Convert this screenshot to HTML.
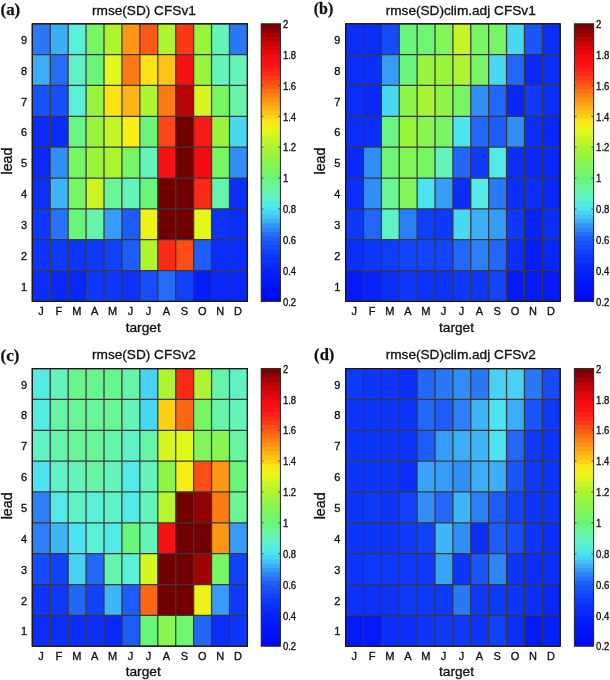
<!DOCTYPE html>
<html><head><meta charset="utf-8"><title>rmse(SD) CFSv1 / CFSv2</title>
<style>
html,body{margin:0;padding:0;background:#fff;}
svg{display:block;}
text{font-family:"Liberation Sans",Arial,Helvetica,sans-serif;fill:#111;stroke:#111;stroke-width:0.33px;}
.tk{font-size:11px;}
.cb{font-size:10.6px;}
.lb{font-size:13.7px;}
.tt{font-size:13.65px;}
.yl{font-size:14.3px;}
.tg{font-family:"Liberation Serif","Times New Roman",serif;font-weight:bold;font-size:16.6px;stroke:#111;stroke-width:0.25px;}
</style></head><body>
<svg width="610" height="680" viewBox="0 0 610 680">
<rect width="610" height="680" fill="#fff"/>
<rect x="32.30" y="23.80" width="18.23" height="31.14" fill="#2a78f6"/>
<rect x="50.22" y="23.80" width="18.23" height="31.14" fill="#3cadf7"/>
<rect x="68.15" y="23.80" width="18.23" height="31.14" fill="#5af0d7"/>
<rect x="86.08" y="23.80" width="18.23" height="31.14" fill="#78f564"/>
<rect x="104.00" y="23.80" width="18.23" height="31.14" fill="#aef530"/>
<rect x="121.92" y="23.80" width="18.23" height="31.14" fill="#fc9614"/>
<rect x="139.85" y="23.80" width="18.23" height="31.14" fill="#fc5a14"/>
<rect x="157.78" y="23.80" width="18.23" height="31.14" fill="#aef530"/>
<rect x="175.70" y="23.80" width="18.23" height="31.14" fill="#fa3a16"/>
<rect x="193.62" y="23.80" width="18.23" height="31.14" fill="#98f53c"/>
<rect x="211.55" y="23.80" width="18.23" height="31.14" fill="#64f4b9"/>
<rect x="229.48" y="23.80" width="18.23" height="31.14" fill="#2a78f6"/>
<rect x="32.30" y="54.64" width="18.23" height="31.14" fill="#3cadf7"/>
<rect x="50.22" y="54.64" width="18.23" height="31.14" fill="#256df7"/>
<rect x="68.15" y="54.64" width="18.23" height="31.14" fill="#60f2c5"/>
<rect x="86.08" y="54.64" width="18.23" height="31.14" fill="#68f57a"/>
<rect x="104.00" y="54.64" width="18.23" height="31.14" fill="#e2f71a"/>
<rect x="121.92" y="54.64" width="18.23" height="31.14" fill="#fc7a12"/>
<rect x="139.85" y="54.64" width="18.23" height="31.14" fill="#fae215"/>
<rect x="157.78" y="54.64" width="18.23" height="31.14" fill="#fcc515"/>
<rect x="175.70" y="54.64" width="18.23" height="31.14" fill="#f61114"/>
<rect x="193.62" y="54.64" width="18.23" height="31.14" fill="#98f53c"/>
<rect x="211.55" y="54.64" width="18.23" height="31.14" fill="#64f4b9"/>
<rect x="229.48" y="54.64" width="18.23" height="31.14" fill="#64f4b9"/>
<rect x="32.30" y="85.49" width="18.23" height="31.14" fill="#1952f9"/>
<rect x="50.22" y="85.49" width="18.23" height="31.14" fill="#174ef9"/>
<rect x="68.15" y="85.49" width="18.23" height="31.14" fill="#5af0d7"/>
<rect x="86.08" y="85.49" width="18.23" height="31.14" fill="#98f53c"/>
<rect x="104.00" y="85.49" width="18.23" height="31.14" fill="#fae215"/>
<rect x="121.92" y="85.49" width="18.23" height="31.14" fill="#fcb416"/>
<rect x="139.85" y="85.49" width="18.23" height="31.14" fill="#aef530"/>
<rect x="157.78" y="85.49" width="18.23" height="31.14" fill="#fc7a12"/>
<rect x="175.70" y="85.49" width="18.23" height="31.14" fill="#b60508"/>
<rect x="193.62" y="85.49" width="18.23" height="31.14" fill="#d6f620"/>
<rect x="211.55" y="85.49" width="18.23" height="31.14" fill="#78f564"/>
<rect x="229.48" y="85.49" width="18.23" height="31.14" fill="#66f4ab"/>
<rect x="32.30" y="116.33" width="18.23" height="31.14" fill="#092bf9"/>
<rect x="50.22" y="116.33" width="18.23" height="31.14" fill="#092bf9"/>
<rect x="68.15" y="116.33" width="18.23" height="31.14" fill="#68f585"/>
<rect x="86.08" y="116.33" width="18.23" height="31.14" fill="#98f53c"/>
<rect x="104.00" y="116.33" width="18.23" height="31.14" fill="#c4f528"/>
<rect x="121.92" y="116.33" width="18.23" height="31.14" fill="#f8ee16"/>
<rect x="139.85" y="116.33" width="18.23" height="31.14" fill="#68f57a"/>
<rect x="157.78" y="116.33" width="18.23" height="31.14" fill="#fb4715"/>
<rect x="175.70" y="116.33" width="18.23" height="31.14" fill="#700002"/>
<rect x="193.62" y="116.33" width="18.23" height="31.14" fill="#f71a15"/>
<rect x="211.55" y="116.33" width="18.23" height="31.14" fill="#98f53c"/>
<rect x="229.48" y="116.33" width="18.23" height="31.14" fill="#49d8f2"/>
<rect x="32.30" y="147.18" width="18.23" height="31.14" fill="#092bf9"/>
<rect x="50.22" y="147.18" width="18.23" height="31.14" fill="#318ef7"/>
<rect x="68.15" y="147.18" width="18.23" height="31.14" fill="#78f564"/>
<rect x="86.08" y="147.18" width="18.23" height="31.14" fill="#98f53c"/>
<rect x="104.00" y="147.18" width="18.23" height="31.14" fill="#aef530"/>
<rect x="121.92" y="147.18" width="18.23" height="31.14" fill="#78f564"/>
<rect x="139.85" y="147.18" width="18.23" height="31.14" fill="#64f4b9"/>
<rect x="157.78" y="147.18" width="18.23" height="31.14" fill="#f61114"/>
<rect x="175.70" y="147.18" width="18.23" height="31.14" fill="#700002"/>
<rect x="193.62" y="147.18" width="18.23" height="31.14" fill="#f20c11"/>
<rect x="211.55" y="147.18" width="18.23" height="31.14" fill="#78f564"/>
<rect x="229.48" y="147.18" width="18.23" height="31.14" fill="#318ef7"/>
<rect x="32.30" y="178.02" width="18.23" height="31.14" fill="#0c31f9"/>
<rect x="50.22" y="178.02" width="18.23" height="31.14" fill="#3eb5f6"/>
<rect x="68.15" y="178.02" width="18.23" height="31.14" fill="#78f564"/>
<rect x="86.08" y="178.02" width="18.23" height="31.14" fill="#caf525"/>
<rect x="104.00" y="178.02" width="18.23" height="31.14" fill="#69f596"/>
<rect x="121.92" y="178.02" width="18.23" height="31.14" fill="#64f4b9"/>
<rect x="139.85" y="178.02" width="18.23" height="31.14" fill="#68f57a"/>
<rect x="157.78" y="178.02" width="18.23" height="31.14" fill="#700002"/>
<rect x="175.70" y="178.02" width="18.23" height="31.14" fill="#700002"/>
<rect x="193.62" y="178.02" width="18.23" height="31.14" fill="#f92a16"/>
<rect x="211.55" y="178.02" width="18.23" height="31.14" fill="#66f4ab"/>
<rect x="229.48" y="178.02" width="18.23" height="31.14" fill="#0b2ff9"/>
<rect x="32.30" y="208.87" width="18.23" height="31.14" fill="#0e38fa"/>
<rect x="50.22" y="208.87" width="18.23" height="31.14" fill="#2772f6"/>
<rect x="68.15" y="208.87" width="18.23" height="31.14" fill="#68f57a"/>
<rect x="86.08" y="208.87" width="18.23" height="31.14" fill="#66f4ab"/>
<rect x="104.00" y="208.87" width="18.23" height="31.14" fill="#369cf7"/>
<rect x="121.92" y="208.87" width="18.23" height="31.14" fill="#1d5cf8"/>
<rect x="139.85" y="208.87" width="18.23" height="31.14" fill="#ebf318"/>
<rect x="157.78" y="208.87" width="18.23" height="31.14" fill="#700002"/>
<rect x="175.70" y="208.87" width="18.23" height="31.14" fill="#700002"/>
<rect x="193.62" y="208.87" width="18.23" height="31.14" fill="#e2f71a"/>
<rect x="211.55" y="208.87" width="18.23" height="31.14" fill="#0d33f9"/>
<rect x="229.48" y="208.87" width="18.23" height="31.14" fill="#0b2ff9"/>
<rect x="32.30" y="239.71" width="18.23" height="31.14" fill="#0d36fa"/>
<rect x="50.22" y="239.71" width="18.23" height="31.14" fill="#0f3afa"/>
<rect x="68.15" y="239.71" width="18.23" height="31.14" fill="#0d36fa"/>
<rect x="86.08" y="239.71" width="18.23" height="31.14" fill="#0f3afa"/>
<rect x="104.00" y="239.71" width="18.23" height="31.14" fill="#1241fa"/>
<rect x="121.92" y="239.71" width="18.23" height="31.14" fill="#1d5cf8"/>
<rect x="139.85" y="239.71" width="18.23" height="31.14" fill="#aef530"/>
<rect x="157.78" y="239.71" width="18.23" height="31.14" fill="#f92a16"/>
<rect x="175.70" y="239.71" width="18.23" height="31.14" fill="#fb4d15"/>
<rect x="193.62" y="239.71" width="18.23" height="31.14" fill="#1d5cf8"/>
<rect x="211.55" y="239.71" width="18.23" height="31.14" fill="#0a2df9"/>
<rect x="229.48" y="239.71" width="18.23" height="31.14" fill="#0a2df9"/>
<rect x="32.30" y="270.56" width="18.23" height="31.14" fill="#0b2ff9"/>
<rect x="50.22" y="270.56" width="18.23" height="31.14" fill="#0928f8"/>
<rect x="68.15" y="270.56" width="18.23" height="31.14" fill="#0928f8"/>
<rect x="86.08" y="270.56" width="18.23" height="31.14" fill="#0e38fa"/>
<rect x="104.00" y="270.56" width="18.23" height="31.14" fill="#0e38fa"/>
<rect x="121.92" y="270.56" width="18.23" height="31.14" fill="#0d33f9"/>
<rect x="139.85" y="270.56" width="18.23" height="31.14" fill="#174ef9"/>
<rect x="157.78" y="270.56" width="18.23" height="31.14" fill="#256df7"/>
<rect x="175.70" y="270.56" width="18.23" height="31.14" fill="#1241fa"/>
<rect x="193.62" y="270.56" width="18.23" height="31.14" fill="#051ef7"/>
<rect x="211.55" y="270.56" width="18.23" height="31.14" fill="#0928f8"/>
<rect x="229.48" y="270.56" width="18.23" height="31.14" fill="#0928f8"/>
<path d="M32.30 23.80V301.40M50.22 23.80V301.40M68.15 23.80V301.40M86.08 23.80V301.40M104.00 23.80V301.40M121.92 23.80V301.40M139.85 23.80V301.40M157.78 23.80V301.40M175.70 23.80V301.40M193.62 23.80V301.40M211.55 23.80V301.40M229.48 23.80V301.40M247.40 23.80V301.40M32.30 23.80H247.40M32.30 54.64H247.40M32.30 85.49H247.40M32.30 116.33H247.40M32.30 147.18H247.40M32.30 178.02H247.40M32.30 208.87H247.40M32.30 239.71H247.40M32.30 270.56H247.40M32.30 301.40H247.40" stroke="#38383c" stroke-width="1.25" fill="none"/>
<rect x="32.30" y="23.80" width="215.10" height="277.60" fill="none" stroke="#161618" stroke-width="1.2"/>
<text class="tk" x="27.10" y="43.82" text-anchor="end">9</text>
<text class="tk" x="27.10" y="74.67" text-anchor="end">8</text>
<text class="tk" x="27.10" y="105.51" text-anchor="end">7</text>
<text class="tk" x="27.10" y="136.36" text-anchor="end">6</text>
<text class="tk" x="27.10" y="167.20" text-anchor="end">5</text>
<text class="tk" x="27.10" y="198.04" text-anchor="end">4</text>
<text class="tk" x="27.10" y="228.89" text-anchor="end">3</text>
<text class="tk" x="27.10" y="259.73" text-anchor="end">2</text>
<text class="tk" x="27.10" y="290.58" text-anchor="end">1</text>
<text class="tk" x="40.91" y="315.20" text-anchor="middle">J</text>
<text class="tk" x="58.84" y="315.20" text-anchor="middle">F</text>
<text class="tk" x="76.76" y="315.20" text-anchor="middle">M</text>
<text class="tk" x="94.69" y="315.20" text-anchor="middle">A</text>
<text class="tk" x="112.61" y="315.20" text-anchor="middle">M</text>
<text class="tk" x="130.54" y="315.20" text-anchor="middle">J</text>
<text class="tk" x="148.46" y="315.20" text-anchor="middle">J</text>
<text class="tk" x="166.39" y="315.20" text-anchor="middle">A</text>
<text class="tk" x="184.31" y="315.20" text-anchor="middle">S</text>
<text class="tk" x="202.24" y="315.20" text-anchor="middle">O</text>
<text class="tk" x="220.16" y="315.20" text-anchor="middle">N</text>
<text class="tk" x="238.09" y="315.20" text-anchor="middle">D</text>
<text class="lb" x="143.20" y="331.60" text-anchor="middle">target</text>
<text class="yl" transform="translate(11.80 161.00) rotate(-90)" text-anchor="middle">lead</text>
<text class="tt" x="143.90" y="14.60" text-anchor="middle">rmse(SD) CFSv1</text>
<text class="tg" transform="translate(0.50 15.10) scale(1.020 1)">(a)</text>
<rect x="261.20" y="23.80" width="19.20" height="5.34" fill="#790103"/>
<rect x="261.20" y="28.14" width="19.20" height="5.34" fill="#8c0204"/>
<rect x="261.20" y="32.48" width="19.20" height="5.34" fill="#a00306"/>
<rect x="261.20" y="36.81" width="19.20" height="5.34" fill="#b50508"/>
<rect x="261.20" y="41.15" width="19.20" height="5.34" fill="#c8060a"/>
<rect x="261.20" y="45.49" width="19.20" height="5.34" fill="#d9070b"/>
<rect x="261.20" y="49.83" width="19.20" height="5.34" fill="#e7080e"/>
<rect x="261.20" y="54.16" width="19.20" height="5.34" fill="#f10b10"/>
<rect x="261.20" y="58.50" width="19.20" height="5.34" fill="#f50f13"/>
<rect x="261.20" y="62.84" width="19.20" height="5.34" fill="#f71615"/>
<rect x="261.20" y="67.17" width="19.20" height="5.34" fill="#f81f16"/>
<rect x="261.20" y="71.51" width="19.20" height="5.34" fill="#f92c16"/>
<rect x="261.20" y="75.85" width="19.20" height="5.34" fill="#fa3b16"/>
<rect x="261.20" y="80.19" width="19.20" height="5.34" fill="#fb4d15"/>
<rect x="261.20" y="84.52" width="19.20" height="5.34" fill="#fc5f14"/>
<rect x="261.20" y="88.86" width="19.20" height="5.34" fill="#fc7113"/>
<rect x="261.20" y="93.20" width="19.20" height="5.34" fill="#fc8213"/>
<rect x="261.20" y="97.54" width="19.20" height="5.34" fill="#fc9214"/>
<rect x="261.20" y="101.87" width="19.20" height="5.34" fill="#fca215"/>
<rect x="261.20" y="106.21" width="19.20" height="5.34" fill="#fcb316"/>
<rect x="261.20" y="110.55" width="19.20" height="5.34" fill="#fcc315"/>
<rect x="261.20" y="114.89" width="19.20" height="5.34" fill="#fcd314"/>
<rect x="261.20" y="119.22" width="19.20" height="5.34" fill="#f9e415"/>
<rect x="261.20" y="123.56" width="19.20" height="5.34" fill="#f3f017"/>
<rect x="261.20" y="127.90" width="19.20" height="5.34" fill="#e7f519"/>
<rect x="261.20" y="132.24" width="19.20" height="5.34" fill="#d8f61f"/>
<rect x="261.20" y="136.57" width="19.20" height="5.34" fill="#c7f527"/>
<rect x="261.20" y="140.91" width="19.20" height="5.34" fill="#baf52c"/>
<rect x="261.20" y="145.25" width="19.20" height="5.34" fill="#adf530"/>
<rect x="261.20" y="149.59" width="19.20" height="5.34" fill="#a1f537"/>
<rect x="261.20" y="153.92" width="19.20" height="5.34" fill="#96f53f"/>
<rect x="261.20" y="158.26" width="19.20" height="5.34" fill="#8cf54a"/>
<rect x="261.20" y="162.60" width="19.20" height="5.34" fill="#83f556"/>
<rect x="261.20" y="166.94" width="19.20" height="5.34" fill="#7af561"/>
<rect x="261.20" y="171.28" width="19.20" height="5.34" fill="#72f56d"/>
<rect x="261.20" y="175.61" width="19.20" height="5.34" fill="#68f579"/>
<rect x="261.20" y="179.95" width="19.20" height="5.34" fill="#69f589"/>
<rect x="261.20" y="184.29" width="19.20" height="5.34" fill="#69f599"/>
<rect x="261.20" y="188.62" width="19.20" height="5.34" fill="#66f4ad"/>
<rect x="261.20" y="192.96" width="19.20" height="5.34" fill="#62f3c0"/>
<rect x="261.20" y="197.30" width="19.20" height="5.34" fill="#5cf1d0"/>
<rect x="261.20" y="201.64" width="19.20" height="5.34" fill="#55ece0"/>
<rect x="261.20" y="205.97" width="19.20" height="5.34" fill="#4de5ee"/>
<rect x="261.20" y="210.31" width="19.20" height="5.34" fill="#48d6f3"/>
<rect x="261.20" y="214.65" width="19.20" height="5.34" fill="#44c5f6"/>
<rect x="261.20" y="218.99" width="19.20" height="5.34" fill="#3cadf7"/>
<rect x="261.20" y="223.32" width="19.20" height="5.34" fill="#3496f7"/>
<rect x="261.20" y="227.66" width="19.20" height="5.34" fill="#2d82f6"/>
<rect x="261.20" y="232.00" width="19.20" height="5.34" fill="#2670f7"/>
<rect x="261.20" y="236.34" width="19.20" height="5.34" fill="#1f60f8"/>
<rect x="261.20" y="240.67" width="19.20" height="5.34" fill="#1a55f8"/>
<rect x="261.20" y="245.01" width="19.20" height="5.34" fill="#164cf9"/>
<rect x="261.20" y="249.35" width="19.20" height="5.34" fill="#1242fa"/>
<rect x="261.20" y="253.69" width="19.20" height="5.34" fill="#0f39fa"/>
<rect x="261.20" y="258.02" width="19.20" height="5.34" fill="#0c33f9"/>
<rect x="261.20" y="262.36" width="19.20" height="5.34" fill="#0a2df9"/>
<rect x="261.20" y="266.70" width="19.20" height="5.34" fill="#0826f8"/>
<rect x="261.20" y="271.04" width="19.20" height="5.34" fill="#0621f8"/>
<rect x="261.20" y="275.37" width="19.20" height="5.34" fill="#051df7"/>
<rect x="261.20" y="279.71" width="19.20" height="5.34" fill="#0418f7"/>
<rect x="261.20" y="284.05" width="19.20" height="5.34" fill="#0314f6"/>
<rect x="261.20" y="288.39" width="19.20" height="5.34" fill="#0210f5"/>
<rect x="261.20" y="292.72" width="19.20" height="5.34" fill="#010df4"/>
<rect x="261.20" y="297.06" width="19.20" height="4.34" fill="#000af3"/>
<rect x="261.20" y="23.80" width="19.20" height="277.60" fill="none" stroke="#222" stroke-width="1"/>
<text class="cb" transform="translate(282.90 28.00) scale(0.9 1)">2</text>
<text class="cb" transform="translate(282.90 58.84) scale(0.9 1)">1.8</text>
<text class="cb" transform="translate(282.90 89.69) scale(0.9 1)">1.6</text>
<text class="cb" transform="translate(282.90 120.53) scale(0.9 1)">1.4</text>
<text class="cb" transform="translate(282.90 151.38) scale(0.9 1)">1.2</text>
<text class="cb" transform="translate(282.90 182.22) scale(0.9 1)">1</text>
<text class="cb" transform="translate(282.90 213.07) scale(0.9 1)">0.8</text>
<text class="cb" transform="translate(282.90 243.91) scale(0.9 1)">0.6</text>
<text class="cb" transform="translate(282.90 274.76) scale(0.9 1)">0.4</text>
<text class="cb" transform="translate(282.90 305.60) scale(0.9 1)">0.2</text>
<path d="M261.20 54.64h2.2M280.40 54.64h-2.2M261.20 85.49h2.2M280.40 85.49h-2.2M261.20 116.33h2.2M280.40 116.33h-2.2M261.20 147.18h2.2M280.40 147.18h-2.2M261.20 178.02h2.2M280.40 178.02h-2.2M261.20 208.87h2.2M280.40 208.87h-2.2M261.20 239.71h2.2M280.40 239.71h-2.2M261.20 270.56h2.2M280.40 270.56h-2.2" stroke="#444" stroke-width="0.9" fill="none"/>
<rect x="345.60" y="23.80" width="18.18" height="31.14" fill="#0b2ff9"/>
<rect x="363.48" y="23.80" width="18.18" height="31.14" fill="#0b2ff9"/>
<rect x="381.37" y="23.80" width="18.18" height="31.14" fill="#164bf9"/>
<rect x="399.25" y="23.80" width="18.18" height="31.14" fill="#68f57a"/>
<rect x="417.13" y="23.80" width="18.18" height="31.14" fill="#6ef571"/>
<rect x="435.02" y="23.80" width="18.18" height="31.14" fill="#82f558"/>
<rect x="452.90" y="23.80" width="18.18" height="31.14" fill="#c4f528"/>
<rect x="470.78" y="23.80" width="18.18" height="31.14" fill="#78f564"/>
<rect x="488.67" y="23.80" width="18.18" height="31.14" fill="#78f564"/>
<rect x="506.55" y="23.80" width="18.18" height="31.14" fill="#49d8f2"/>
<rect x="524.43" y="23.80" width="18.18" height="31.14" fill="#1a55f8"/>
<rect x="542.32" y="23.80" width="18.18" height="31.14" fill="#0b2ff9"/>
<rect x="345.60" y="54.64" width="18.18" height="31.14" fill="#0b2ff9"/>
<rect x="363.48" y="54.64" width="18.18" height="31.14" fill="#0b2ff9"/>
<rect x="381.37" y="54.64" width="18.18" height="31.14" fill="#369cf7"/>
<rect x="399.25" y="54.64" width="18.18" height="31.14" fill="#68f57a"/>
<rect x="417.13" y="54.64" width="18.18" height="31.14" fill="#98f53c"/>
<rect x="435.02" y="54.64" width="18.18" height="31.14" fill="#98f53c"/>
<rect x="452.90" y="54.64" width="18.18" height="31.14" fill="#aef530"/>
<rect x="470.78" y="54.64" width="18.18" height="31.14" fill="#78f564"/>
<rect x="488.67" y="54.64" width="18.18" height="31.14" fill="#49d8f2"/>
<rect x="506.55" y="54.64" width="18.18" height="31.14" fill="#2267f7"/>
<rect x="524.43" y="54.64" width="18.18" height="31.14" fill="#0928f8"/>
<rect x="542.32" y="54.64" width="18.18" height="31.14" fill="#0b2ff9"/>
<rect x="345.60" y="85.49" width="18.18" height="31.14" fill="#0b2ff9"/>
<rect x="363.48" y="85.49" width="18.18" height="31.14" fill="#0928f8"/>
<rect x="381.37" y="85.49" width="18.18" height="31.14" fill="#49d8f2"/>
<rect x="399.25" y="85.49" width="18.18" height="31.14" fill="#8ef548"/>
<rect x="417.13" y="85.49" width="18.18" height="31.14" fill="#a5f535"/>
<rect x="435.02" y="85.49" width="18.18" height="31.14" fill="#8ef548"/>
<rect x="452.90" y="85.49" width="18.18" height="31.14" fill="#78f564"/>
<rect x="470.78" y="85.49" width="18.18" height="31.14" fill="#318ef7"/>
<rect x="488.67" y="85.49" width="18.18" height="31.14" fill="#2267f7"/>
<rect x="506.55" y="85.49" width="18.18" height="31.14" fill="#0928f8"/>
<rect x="524.43" y="85.49" width="18.18" height="31.14" fill="#0f3afa"/>
<rect x="542.32" y="85.49" width="18.18" height="31.14" fill="#0b2ff9"/>
<rect x="345.60" y="116.33" width="18.18" height="31.14" fill="#0b2ff9"/>
<rect x="363.48" y="116.33" width="18.18" height="31.14" fill="#0b2ff9"/>
<rect x="381.37" y="116.33" width="18.18" height="31.14" fill="#68f585"/>
<rect x="399.25" y="116.33" width="18.18" height="31.14" fill="#98f53c"/>
<rect x="417.13" y="116.33" width="18.18" height="31.14" fill="#88f550"/>
<rect x="435.02" y="116.33" width="18.18" height="31.14" fill="#78f564"/>
<rect x="452.90" y="116.33" width="18.18" height="31.14" fill="#4ce4f0"/>
<rect x="470.78" y="116.33" width="18.18" height="31.14" fill="#2267f7"/>
<rect x="488.67" y="116.33" width="18.18" height="31.14" fill="#1d5cf8"/>
<rect x="506.55" y="116.33" width="18.18" height="31.14" fill="#318ef7"/>
<rect x="524.43" y="116.33" width="18.18" height="31.14" fill="#0b2ff9"/>
<rect x="542.32" y="116.33" width="18.18" height="31.14" fill="#0928f8"/>
<rect x="345.60" y="147.18" width="18.18" height="31.14" fill="#0928f8"/>
<rect x="363.48" y="147.18" width="18.18" height="31.14" fill="#318ef7"/>
<rect x="381.37" y="147.18" width="18.18" height="31.14" fill="#6ef571"/>
<rect x="399.25" y="147.18" width="18.18" height="31.14" fill="#82f558"/>
<rect x="417.13" y="147.18" width="18.18" height="31.14" fill="#78f564"/>
<rect x="435.02" y="147.18" width="18.18" height="31.14" fill="#64f4b9"/>
<rect x="452.90" y="147.18" width="18.18" height="31.14" fill="#2267f7"/>
<rect x="470.78" y="147.18" width="18.18" height="31.14" fill="#0f3afa"/>
<rect x="488.67" y="147.18" width="18.18" height="31.14" fill="#52e9e6"/>
<rect x="506.55" y="147.18" width="18.18" height="31.14" fill="#0b2ff9"/>
<rect x="524.43" y="147.18" width="18.18" height="31.14" fill="#0928f8"/>
<rect x="542.32" y="147.18" width="18.18" height="31.14" fill="#0928f8"/>
<rect x="345.60" y="178.02" width="18.18" height="31.14" fill="#0b2ff9"/>
<rect x="363.48" y="178.02" width="18.18" height="31.14" fill="#318ef7"/>
<rect x="381.37" y="178.02" width="18.18" height="31.14" fill="#69f596"/>
<rect x="399.25" y="178.02" width="18.18" height="31.14" fill="#82f558"/>
<rect x="417.13" y="178.02" width="18.18" height="31.14" fill="#4ce4f0"/>
<rect x="435.02" y="178.02" width="18.18" height="31.14" fill="#369cf7"/>
<rect x="452.90" y="178.02" width="18.18" height="31.14" fill="#0b2ff9"/>
<rect x="470.78" y="178.02" width="18.18" height="31.14" fill="#52e9e6"/>
<rect x="488.67" y="178.02" width="18.18" height="31.14" fill="#2a78f6"/>
<rect x="506.55" y="178.02" width="18.18" height="31.14" fill="#0b2ff9"/>
<rect x="524.43" y="178.02" width="18.18" height="31.14" fill="#0b2ff9"/>
<rect x="542.32" y="178.02" width="18.18" height="31.14" fill="#0928f8"/>
<rect x="345.60" y="208.87" width="18.18" height="31.14" fill="#0e38fa"/>
<rect x="363.48" y="208.87" width="18.18" height="31.14" fill="#2267f7"/>
<rect x="381.37" y="208.87" width="18.18" height="31.14" fill="#60f2c5"/>
<rect x="399.25" y="208.87" width="18.18" height="31.14" fill="#2c7ff6"/>
<rect x="417.13" y="208.87" width="18.18" height="31.14" fill="#103dfa"/>
<rect x="435.02" y="208.87" width="18.18" height="31.14" fill="#0e38fa"/>
<rect x="452.90" y="208.87" width="18.18" height="31.14" fill="#49d8f2"/>
<rect x="470.78" y="208.87" width="18.18" height="31.14" fill="#3cadf7"/>
<rect x="488.67" y="208.87" width="18.18" height="31.14" fill="#369cf7"/>
<rect x="506.55" y="208.87" width="18.18" height="31.14" fill="#0e38fa"/>
<rect x="524.43" y="208.87" width="18.18" height="31.14" fill="#0724f8"/>
<rect x="542.32" y="208.87" width="18.18" height="31.14" fill="#0b2ff9"/>
<rect x="345.60" y="239.71" width="18.18" height="31.14" fill="#0b2ff9"/>
<rect x="363.48" y="239.71" width="18.18" height="31.14" fill="#0e38fa"/>
<rect x="381.37" y="239.71" width="18.18" height="31.14" fill="#103dfa"/>
<rect x="399.25" y="239.71" width="18.18" height="31.14" fill="#1344f9"/>
<rect x="417.13" y="239.71" width="18.18" height="31.14" fill="#1344f9"/>
<rect x="435.02" y="239.71" width="18.18" height="31.14" fill="#1344f9"/>
<rect x="452.90" y="239.71" width="18.18" height="31.14" fill="#2267f7"/>
<rect x="470.78" y="239.71" width="18.18" height="31.14" fill="#2c7ff6"/>
<rect x="488.67" y="239.71" width="18.18" height="31.14" fill="#2267f7"/>
<rect x="506.55" y="239.71" width="18.18" height="31.14" fill="#0b2ff9"/>
<rect x="524.43" y="239.71" width="18.18" height="31.14" fill="#051ef7"/>
<rect x="542.32" y="239.71" width="18.18" height="31.14" fill="#0826f8"/>
<rect x="345.60" y="270.56" width="18.18" height="31.14" fill="#051af7"/>
<rect x="363.48" y="270.56" width="18.18" height="31.14" fill="#0724f8"/>
<rect x="381.37" y="270.56" width="18.18" height="31.14" fill="#0b2ff9"/>
<rect x="399.25" y="270.56" width="18.18" height="31.14" fill="#0e38fa"/>
<rect x="417.13" y="270.56" width="18.18" height="31.14" fill="#0d33f9"/>
<rect x="435.02" y="270.56" width="18.18" height="31.14" fill="#0d33f9"/>
<rect x="452.90" y="270.56" width="18.18" height="31.14" fill="#0e38fa"/>
<rect x="470.78" y="270.56" width="18.18" height="31.14" fill="#0e38fa"/>
<rect x="488.67" y="270.56" width="18.18" height="31.14" fill="#1344f9"/>
<rect x="506.55" y="270.56" width="18.18" height="31.14" fill="#051af7"/>
<rect x="524.43" y="270.56" width="18.18" height="31.14" fill="#051af7"/>
<rect x="542.32" y="270.56" width="18.18" height="31.14" fill="#051af7"/>
<path d="M345.60 23.80V301.40M363.48 23.80V301.40M381.37 23.80V301.40M399.25 23.80V301.40M417.13 23.80V301.40M435.02 23.80V301.40M452.90 23.80V301.40M470.78 23.80V301.40M488.67 23.80V301.40M506.55 23.80V301.40M524.43 23.80V301.40M542.32 23.80V301.40M560.20 23.80V301.40M345.60 23.80H560.20M345.60 54.64H560.20M345.60 85.49H560.20M345.60 116.33H560.20M345.60 147.18H560.20M345.60 178.02H560.20M345.60 208.87H560.20M345.60 239.71H560.20M345.60 270.56H560.20M345.60 301.40H560.20" stroke="#38383c" stroke-width="1.25" fill="none"/>
<rect x="345.60" y="23.80" width="214.60" height="277.60" fill="none" stroke="#161618" stroke-width="1.2"/>
<text class="tk" x="340.40" y="43.82" text-anchor="end">9</text>
<text class="tk" x="340.40" y="74.67" text-anchor="end">8</text>
<text class="tk" x="340.40" y="105.51" text-anchor="end">7</text>
<text class="tk" x="340.40" y="136.36" text-anchor="end">6</text>
<text class="tk" x="340.40" y="167.20" text-anchor="end">5</text>
<text class="tk" x="340.40" y="198.04" text-anchor="end">4</text>
<text class="tk" x="340.40" y="228.89" text-anchor="end">3</text>
<text class="tk" x="340.40" y="259.73" text-anchor="end">2</text>
<text class="tk" x="340.40" y="290.58" text-anchor="end">1</text>
<text class="tk" x="354.19" y="315.20" text-anchor="middle">J</text>
<text class="tk" x="372.07" y="315.20" text-anchor="middle">F</text>
<text class="tk" x="389.96" y="315.20" text-anchor="middle">M</text>
<text class="tk" x="407.84" y="315.20" text-anchor="middle">A</text>
<text class="tk" x="425.73" y="315.20" text-anchor="middle">M</text>
<text class="tk" x="443.61" y="315.20" text-anchor="middle">J</text>
<text class="tk" x="461.49" y="315.20" text-anchor="middle">J</text>
<text class="tk" x="479.38" y="315.20" text-anchor="middle">A</text>
<text class="tk" x="497.26" y="315.20" text-anchor="middle">S</text>
<text class="tk" x="515.14" y="315.20" text-anchor="middle">O</text>
<text class="tk" x="533.02" y="315.20" text-anchor="middle">N</text>
<text class="tk" x="550.91" y="315.20" text-anchor="middle">D</text>
<text class="lb" x="456.50" y="331.60" text-anchor="middle">target</text>
<text class="yl" transform="translate(325.10 161.00) rotate(-90)" text-anchor="middle">lead</text>
<text class="tt" x="460.70" y="14.60" text-anchor="middle">rmse(SD)clim.adj CFSv1</text>
<text class="tg" transform="translate(313.80 14.20) scale(0.960 1)">(b)</text>
<rect x="574.40" y="23.80" width="19.20" height="5.34" fill="#790103"/>
<rect x="574.40" y="28.14" width="19.20" height="5.34" fill="#8c0204"/>
<rect x="574.40" y="32.48" width="19.20" height="5.34" fill="#a00306"/>
<rect x="574.40" y="36.81" width="19.20" height="5.34" fill="#b50508"/>
<rect x="574.40" y="41.15" width="19.20" height="5.34" fill="#c8060a"/>
<rect x="574.40" y="45.49" width="19.20" height="5.34" fill="#d9070b"/>
<rect x="574.40" y="49.83" width="19.20" height="5.34" fill="#e7080e"/>
<rect x="574.40" y="54.16" width="19.20" height="5.34" fill="#f10b10"/>
<rect x="574.40" y="58.50" width="19.20" height="5.34" fill="#f50f13"/>
<rect x="574.40" y="62.84" width="19.20" height="5.34" fill="#f71615"/>
<rect x="574.40" y="67.17" width="19.20" height="5.34" fill="#f81f16"/>
<rect x="574.40" y="71.51" width="19.20" height="5.34" fill="#f92c16"/>
<rect x="574.40" y="75.85" width="19.20" height="5.34" fill="#fa3b16"/>
<rect x="574.40" y="80.19" width="19.20" height="5.34" fill="#fb4d15"/>
<rect x="574.40" y="84.52" width="19.20" height="5.34" fill="#fc5f14"/>
<rect x="574.40" y="88.86" width="19.20" height="5.34" fill="#fc7113"/>
<rect x="574.40" y="93.20" width="19.20" height="5.34" fill="#fc8213"/>
<rect x="574.40" y="97.54" width="19.20" height="5.34" fill="#fc9214"/>
<rect x="574.40" y="101.87" width="19.20" height="5.34" fill="#fca215"/>
<rect x="574.40" y="106.21" width="19.20" height="5.34" fill="#fcb316"/>
<rect x="574.40" y="110.55" width="19.20" height="5.34" fill="#fcc315"/>
<rect x="574.40" y="114.89" width="19.20" height="5.34" fill="#fcd314"/>
<rect x="574.40" y="119.22" width="19.20" height="5.34" fill="#f9e415"/>
<rect x="574.40" y="123.56" width="19.20" height="5.34" fill="#f3f017"/>
<rect x="574.40" y="127.90" width="19.20" height="5.34" fill="#e7f519"/>
<rect x="574.40" y="132.24" width="19.20" height="5.34" fill="#d8f61f"/>
<rect x="574.40" y="136.57" width="19.20" height="5.34" fill="#c7f527"/>
<rect x="574.40" y="140.91" width="19.20" height="5.34" fill="#baf52c"/>
<rect x="574.40" y="145.25" width="19.20" height="5.34" fill="#adf530"/>
<rect x="574.40" y="149.59" width="19.20" height="5.34" fill="#a1f537"/>
<rect x="574.40" y="153.92" width="19.20" height="5.34" fill="#96f53f"/>
<rect x="574.40" y="158.26" width="19.20" height="5.34" fill="#8cf54a"/>
<rect x="574.40" y="162.60" width="19.20" height="5.34" fill="#83f556"/>
<rect x="574.40" y="166.94" width="19.20" height="5.34" fill="#7af561"/>
<rect x="574.40" y="171.28" width="19.20" height="5.34" fill="#72f56d"/>
<rect x="574.40" y="175.61" width="19.20" height="5.34" fill="#68f579"/>
<rect x="574.40" y="179.95" width="19.20" height="5.34" fill="#69f589"/>
<rect x="574.40" y="184.29" width="19.20" height="5.34" fill="#69f599"/>
<rect x="574.40" y="188.62" width="19.20" height="5.34" fill="#66f4ad"/>
<rect x="574.40" y="192.96" width="19.20" height="5.34" fill="#62f3c0"/>
<rect x="574.40" y="197.30" width="19.20" height="5.34" fill="#5cf1d0"/>
<rect x="574.40" y="201.64" width="19.20" height="5.34" fill="#55ece0"/>
<rect x="574.40" y="205.97" width="19.20" height="5.34" fill="#4de5ee"/>
<rect x="574.40" y="210.31" width="19.20" height="5.34" fill="#48d6f3"/>
<rect x="574.40" y="214.65" width="19.20" height="5.34" fill="#44c5f6"/>
<rect x="574.40" y="218.99" width="19.20" height="5.34" fill="#3cadf7"/>
<rect x="574.40" y="223.32" width="19.20" height="5.34" fill="#3496f7"/>
<rect x="574.40" y="227.66" width="19.20" height="5.34" fill="#2d82f6"/>
<rect x="574.40" y="232.00" width="19.20" height="5.34" fill="#2670f7"/>
<rect x="574.40" y="236.34" width="19.20" height="5.34" fill="#1f60f8"/>
<rect x="574.40" y="240.67" width="19.20" height="5.34" fill="#1a55f8"/>
<rect x="574.40" y="245.01" width="19.20" height="5.34" fill="#164cf9"/>
<rect x="574.40" y="249.35" width="19.20" height="5.34" fill="#1242fa"/>
<rect x="574.40" y="253.69" width="19.20" height="5.34" fill="#0f39fa"/>
<rect x="574.40" y="258.02" width="19.20" height="5.34" fill="#0c33f9"/>
<rect x="574.40" y="262.36" width="19.20" height="5.34" fill="#0a2df9"/>
<rect x="574.40" y="266.70" width="19.20" height="5.34" fill="#0826f8"/>
<rect x="574.40" y="271.04" width="19.20" height="5.34" fill="#0621f8"/>
<rect x="574.40" y="275.37" width="19.20" height="5.34" fill="#051df7"/>
<rect x="574.40" y="279.71" width="19.20" height="5.34" fill="#0418f7"/>
<rect x="574.40" y="284.05" width="19.20" height="5.34" fill="#0314f6"/>
<rect x="574.40" y="288.39" width="19.20" height="5.34" fill="#0210f5"/>
<rect x="574.40" y="292.72" width="19.20" height="5.34" fill="#010df4"/>
<rect x="574.40" y="297.06" width="19.20" height="4.34" fill="#000af3"/>
<rect x="574.40" y="23.80" width="19.20" height="277.60" fill="none" stroke="#222" stroke-width="1"/>
<text class="cb" transform="translate(596.10 28.00) scale(0.9 1)">2</text>
<text class="cb" transform="translate(596.10 58.84) scale(0.9 1)">1.8</text>
<text class="cb" transform="translate(596.10 89.69) scale(0.9 1)">1.6</text>
<text class="cb" transform="translate(596.10 120.53) scale(0.9 1)">1.4</text>
<text class="cb" transform="translate(596.10 151.38) scale(0.9 1)">1.2</text>
<text class="cb" transform="translate(596.10 182.22) scale(0.9 1)">1</text>
<text class="cb" transform="translate(596.10 213.07) scale(0.9 1)">0.8</text>
<text class="cb" transform="translate(596.10 243.91) scale(0.9 1)">0.6</text>
<text class="cb" transform="translate(596.10 274.76) scale(0.9 1)">0.4</text>
<text class="cb" transform="translate(596.10 305.60) scale(0.9 1)">0.2</text>
<path d="M574.40 54.64h2.2M593.60 54.64h-2.2M574.40 85.49h2.2M593.60 85.49h-2.2M574.40 116.33h2.2M593.60 116.33h-2.2M574.40 147.18h2.2M593.60 147.18h-2.2M574.40 178.02h2.2M593.60 178.02h-2.2M574.40 208.87h2.2M593.60 208.87h-2.2M574.40 239.71h2.2M593.60 239.71h-2.2M574.40 270.56h2.2M593.60 270.56h-2.2" stroke="#444" stroke-width="0.9" fill="none"/>
<rect x="32.30" y="368.60" width="18.23" height="31.14" fill="#54ebe1"/>
<rect x="50.22" y="368.60" width="18.23" height="31.14" fill="#64f4b9"/>
<rect x="68.15" y="368.60" width="18.23" height="31.14" fill="#69f58b"/>
<rect x="86.08" y="368.60" width="18.23" height="31.14" fill="#69f58b"/>
<rect x="104.00" y="368.60" width="18.23" height="31.14" fill="#69f58b"/>
<rect x="121.92" y="368.60" width="18.23" height="31.14" fill="#66f4ab"/>
<rect x="139.85" y="368.60" width="18.23" height="31.14" fill="#47d2f4"/>
<rect x="157.78" y="368.60" width="18.23" height="31.14" fill="#aef530"/>
<rect x="175.70" y="368.60" width="18.23" height="31.14" fill="#f92a16"/>
<rect x="193.62" y="368.60" width="18.23" height="31.14" fill="#aef530"/>
<rect x="211.55" y="368.60" width="18.23" height="31.14" fill="#66f4ab"/>
<rect x="229.48" y="368.60" width="18.23" height="31.14" fill="#60f2c5"/>
<rect x="32.30" y="399.44" width="18.23" height="31.14" fill="#54ebe1"/>
<rect x="50.22" y="399.44" width="18.23" height="31.14" fill="#67f5a4"/>
<rect x="68.15" y="399.44" width="18.23" height="31.14" fill="#69f596"/>
<rect x="86.08" y="399.44" width="18.23" height="31.14" fill="#69f596"/>
<rect x="104.00" y="399.44" width="18.23" height="31.14" fill="#69f596"/>
<rect x="121.92" y="399.44" width="18.23" height="31.14" fill="#64f4b9"/>
<rect x="139.85" y="399.44" width="18.23" height="31.14" fill="#49d8f2"/>
<rect x="157.78" y="399.44" width="18.23" height="31.14" fill="#fcd014"/>
<rect x="175.70" y="399.44" width="18.23" height="31.14" fill="#fc6713"/>
<rect x="193.62" y="399.44" width="18.23" height="31.14" fill="#78f564"/>
<rect x="211.55" y="399.44" width="18.23" height="31.14" fill="#66f4ab"/>
<rect x="229.48" y="399.44" width="18.23" height="31.14" fill="#64f4b9"/>
<rect x="32.30" y="430.29" width="18.23" height="31.14" fill="#60f2c5"/>
<rect x="50.22" y="430.29" width="18.23" height="31.14" fill="#66f4ab"/>
<rect x="68.15" y="430.29" width="18.23" height="31.14" fill="#69f596"/>
<rect x="86.08" y="430.29" width="18.23" height="31.14" fill="#69f596"/>
<rect x="104.00" y="430.29" width="18.23" height="31.14" fill="#66f4ab"/>
<rect x="121.92" y="430.29" width="18.23" height="31.14" fill="#60f2c5"/>
<rect x="139.85" y="430.29" width="18.23" height="31.14" fill="#66f4ab"/>
<rect x="157.78" y="430.29" width="18.23" height="31.14" fill="#d6f620"/>
<rect x="175.70" y="430.29" width="18.23" height="31.14" fill="#e2f71a"/>
<rect x="193.62" y="430.29" width="18.23" height="31.14" fill="#82f558"/>
<rect x="211.55" y="430.29" width="18.23" height="31.14" fill="#88f550"/>
<rect x="229.48" y="430.29" width="18.23" height="31.14" fill="#67f5a4"/>
<rect x="32.30" y="461.13" width="18.23" height="31.14" fill="#4ce4f0"/>
<rect x="50.22" y="461.13" width="18.23" height="31.14" fill="#60f2c5"/>
<rect x="68.15" y="461.13" width="18.23" height="31.14" fill="#64f4b9"/>
<rect x="86.08" y="461.13" width="18.23" height="31.14" fill="#67f5a4"/>
<rect x="104.00" y="461.13" width="18.23" height="31.14" fill="#64f4b9"/>
<rect x="121.92" y="461.13" width="18.23" height="31.14" fill="#52e9e6"/>
<rect x="139.85" y="461.13" width="18.23" height="31.14" fill="#64f4b9"/>
<rect x="157.78" y="461.13" width="18.23" height="31.14" fill="#8ef548"/>
<rect x="175.70" y="461.13" width="18.23" height="31.14" fill="#f8ee16"/>
<rect x="193.62" y="461.13" width="18.23" height="31.14" fill="#fb4d15"/>
<rect x="211.55" y="461.13" width="18.23" height="31.14" fill="#fc9614"/>
<rect x="229.48" y="461.13" width="18.23" height="31.14" fill="#68f57a"/>
<rect x="32.30" y="491.98" width="18.23" height="31.14" fill="#2c7ff6"/>
<rect x="50.22" y="491.98" width="18.23" height="31.14" fill="#52e9e6"/>
<rect x="68.15" y="491.98" width="18.23" height="31.14" fill="#60f2c5"/>
<rect x="86.08" y="491.98" width="18.23" height="31.14" fill="#5af0d7"/>
<rect x="104.00" y="491.98" width="18.23" height="31.14" fill="#60f2c5"/>
<rect x="121.92" y="491.98" width="18.23" height="31.14" fill="#52e9e6"/>
<rect x="139.85" y="491.98" width="18.23" height="31.14" fill="#64f4b9"/>
<rect x="157.78" y="491.98" width="18.23" height="31.14" fill="#b7f52d"/>
<rect x="175.70" y="491.98" width="18.23" height="31.14" fill="#700002"/>
<rect x="193.62" y="491.98" width="18.23" height="31.14" fill="#910204"/>
<rect x="211.55" y="491.98" width="18.23" height="31.14" fill="#fc7a12"/>
<rect x="229.48" y="491.98" width="18.23" height="31.14" fill="#69f596"/>
<rect x="32.30" y="522.82" width="18.23" height="31.14" fill="#2c7ff6"/>
<rect x="50.22" y="522.82" width="18.23" height="31.14" fill="#3eb5f6"/>
<rect x="68.15" y="522.82" width="18.23" height="31.14" fill="#4ce4f0"/>
<rect x="86.08" y="522.82" width="18.23" height="31.14" fill="#5af0d7"/>
<rect x="104.00" y="522.82" width="18.23" height="31.14" fill="#52e9e6"/>
<rect x="121.92" y="522.82" width="18.23" height="31.14" fill="#68f57a"/>
<rect x="139.85" y="522.82" width="18.23" height="31.14" fill="#64f4b9"/>
<rect x="157.78" y="522.82" width="18.23" height="31.14" fill="#f61114"/>
<rect x="175.70" y="522.82" width="18.23" height="31.14" fill="#700002"/>
<rect x="193.62" y="522.82" width="18.23" height="31.14" fill="#700002"/>
<rect x="211.55" y="522.82" width="18.23" height="31.14" fill="#fc9614"/>
<rect x="229.48" y="522.82" width="18.23" height="31.14" fill="#369cf7"/>
<rect x="32.30" y="553.67" width="18.23" height="31.14" fill="#164bf9"/>
<rect x="50.22" y="553.67" width="18.23" height="31.14" fill="#1241fa"/>
<rect x="68.15" y="553.67" width="18.23" height="31.14" fill="#47d2f4"/>
<rect x="86.08" y="553.67" width="18.23" height="31.14" fill="#2267f7"/>
<rect x="104.00" y="553.67" width="18.23" height="31.14" fill="#66f4ab"/>
<rect x="121.92" y="553.67" width="18.23" height="31.14" fill="#5af0d7"/>
<rect x="139.85" y="553.67" width="18.23" height="31.14" fill="#d6f620"/>
<rect x="157.78" y="553.67" width="18.23" height="31.14" fill="#700002"/>
<rect x="175.70" y="553.67" width="18.23" height="31.14" fill="#700002"/>
<rect x="193.62" y="553.67" width="18.23" height="31.14" fill="#a00306"/>
<rect x="211.55" y="553.67" width="18.23" height="31.14" fill="#78f564"/>
<rect x="229.48" y="553.67" width="18.23" height="31.14" fill="#1241fa"/>
<rect x="32.30" y="584.51" width="18.23" height="31.14" fill="#0d36fa"/>
<rect x="50.22" y="584.51" width="18.23" height="31.14" fill="#0f3afa"/>
<rect x="68.15" y="584.51" width="18.23" height="31.14" fill="#2267f7"/>
<rect x="86.08" y="584.51" width="18.23" height="31.14" fill="#1241fa"/>
<rect x="104.00" y="584.51" width="18.23" height="31.14" fill="#3eb5f6"/>
<rect x="121.92" y="584.51" width="18.23" height="31.14" fill="#1d5cf8"/>
<rect x="139.85" y="584.51" width="18.23" height="31.14" fill="#fc6713"/>
<rect x="157.78" y="584.51" width="18.23" height="31.14" fill="#700002"/>
<rect x="175.70" y="584.51" width="18.23" height="31.14" fill="#700002"/>
<rect x="193.62" y="584.51" width="18.23" height="31.14" fill="#eff218"/>
<rect x="211.55" y="584.51" width="18.23" height="31.14" fill="#369cf7"/>
<rect x="229.48" y="584.51" width="18.23" height="31.14" fill="#0f3afa"/>
<rect x="32.30" y="615.36" width="18.23" height="31.14" fill="#0b2ff9"/>
<rect x="50.22" y="615.36" width="18.23" height="31.14" fill="#0b2ff9"/>
<rect x="68.15" y="615.36" width="18.23" height="31.14" fill="#0b2ff9"/>
<rect x="86.08" y="615.36" width="18.23" height="31.14" fill="#0b2ff9"/>
<rect x="104.00" y="615.36" width="18.23" height="31.14" fill="#0928f8"/>
<rect x="121.92" y="615.36" width="18.23" height="31.14" fill="#1d5cf8"/>
<rect x="139.85" y="615.36" width="18.23" height="31.14" fill="#68f57a"/>
<rect x="157.78" y="615.36" width="18.23" height="31.14" fill="#88f550"/>
<rect x="175.70" y="615.36" width="18.23" height="31.14" fill="#6ef571"/>
<rect x="193.62" y="615.36" width="18.23" height="31.14" fill="#2267f7"/>
<rect x="211.55" y="615.36" width="18.23" height="31.14" fill="#0b2ff9"/>
<rect x="229.48" y="615.36" width="18.23" height="31.14" fill="#0d36fa"/>
<path d="M32.30 368.60V646.20M50.22 368.60V646.20M68.15 368.60V646.20M86.08 368.60V646.20M104.00 368.60V646.20M121.92 368.60V646.20M139.85 368.60V646.20M157.78 368.60V646.20M175.70 368.60V646.20M193.62 368.60V646.20M211.55 368.60V646.20M229.48 368.60V646.20M247.40 368.60V646.20M32.30 368.60H247.40M32.30 399.44H247.40M32.30 430.29H247.40M32.30 461.13H247.40M32.30 491.98H247.40M32.30 522.82H247.40M32.30 553.67H247.40M32.30 584.51H247.40M32.30 615.36H247.40M32.30 646.20H247.40" stroke="#38383c" stroke-width="1.25" fill="none"/>
<rect x="32.30" y="368.60" width="215.10" height="277.60" fill="none" stroke="#161618" stroke-width="1.2"/>
<text class="tk" x="27.10" y="388.62" text-anchor="end">9</text>
<text class="tk" x="27.10" y="419.47" text-anchor="end">8</text>
<text class="tk" x="27.10" y="450.31" text-anchor="end">7</text>
<text class="tk" x="27.10" y="481.16" text-anchor="end">6</text>
<text class="tk" x="27.10" y="512.00" text-anchor="end">5</text>
<text class="tk" x="27.10" y="542.84" text-anchor="end">4</text>
<text class="tk" x="27.10" y="573.69" text-anchor="end">3</text>
<text class="tk" x="27.10" y="604.53" text-anchor="end">2</text>
<text class="tk" x="27.10" y="635.38" text-anchor="end">1</text>
<text class="tk" x="40.91" y="660.00" text-anchor="middle">J</text>
<text class="tk" x="58.84" y="660.00" text-anchor="middle">F</text>
<text class="tk" x="76.76" y="660.00" text-anchor="middle">M</text>
<text class="tk" x="94.69" y="660.00" text-anchor="middle">A</text>
<text class="tk" x="112.61" y="660.00" text-anchor="middle">M</text>
<text class="tk" x="130.54" y="660.00" text-anchor="middle">J</text>
<text class="tk" x="148.46" y="660.00" text-anchor="middle">J</text>
<text class="tk" x="166.39" y="660.00" text-anchor="middle">A</text>
<text class="tk" x="184.31" y="660.00" text-anchor="middle">S</text>
<text class="tk" x="202.24" y="660.00" text-anchor="middle">O</text>
<text class="tk" x="220.16" y="660.00" text-anchor="middle">N</text>
<text class="tk" x="238.09" y="660.00" text-anchor="middle">D</text>
<text class="lb" x="143.20" y="676.40" text-anchor="middle">target</text>
<text class="yl" transform="translate(11.80 505.80) rotate(-90)" text-anchor="middle">lead</text>
<text class="tt" x="143.90" y="359.40" text-anchor="middle">rmse(SD) CFSv2</text>
<text class="tg" transform="translate(0.50 360.60) scale(1.020 1)">(c)</text>
<rect x="261.20" y="368.60" width="19.20" height="5.34" fill="#790103"/>
<rect x="261.20" y="372.94" width="19.20" height="5.34" fill="#8c0204"/>
<rect x="261.20" y="377.28" width="19.20" height="5.34" fill="#a00306"/>
<rect x="261.20" y="381.61" width="19.20" height="5.34" fill="#b50508"/>
<rect x="261.20" y="385.95" width="19.20" height="5.34" fill="#c8060a"/>
<rect x="261.20" y="390.29" width="19.20" height="5.34" fill="#d9070b"/>
<rect x="261.20" y="394.62" width="19.20" height="5.34" fill="#e7080e"/>
<rect x="261.20" y="398.96" width="19.20" height="5.34" fill="#f10b10"/>
<rect x="261.20" y="403.30" width="19.20" height="5.34" fill="#f50f13"/>
<rect x="261.20" y="407.64" width="19.20" height="5.34" fill="#f71615"/>
<rect x="261.20" y="411.98" width="19.20" height="5.34" fill="#f81f16"/>
<rect x="261.20" y="416.31" width="19.20" height="5.34" fill="#f92c16"/>
<rect x="261.20" y="420.65" width="19.20" height="5.34" fill="#fa3b16"/>
<rect x="261.20" y="424.99" width="19.20" height="5.34" fill="#fb4d15"/>
<rect x="261.20" y="429.33" width="19.20" height="5.34" fill="#fc5f14"/>
<rect x="261.20" y="433.66" width="19.20" height="5.34" fill="#fc7113"/>
<rect x="261.20" y="438.00" width="19.20" height="5.34" fill="#fc8213"/>
<rect x="261.20" y="442.34" width="19.20" height="5.34" fill="#fc9214"/>
<rect x="261.20" y="446.68" width="19.20" height="5.34" fill="#fca215"/>
<rect x="261.20" y="451.01" width="19.20" height="5.34" fill="#fcb316"/>
<rect x="261.20" y="455.35" width="19.20" height="5.34" fill="#fcc315"/>
<rect x="261.20" y="459.69" width="19.20" height="5.34" fill="#fcd314"/>
<rect x="261.20" y="464.03" width="19.20" height="5.34" fill="#f9e415"/>
<rect x="261.20" y="468.36" width="19.20" height="5.34" fill="#f3f017"/>
<rect x="261.20" y="472.70" width="19.20" height="5.34" fill="#e7f519"/>
<rect x="261.20" y="477.04" width="19.20" height="5.34" fill="#d8f61f"/>
<rect x="261.20" y="481.38" width="19.20" height="5.34" fill="#c7f527"/>
<rect x="261.20" y="485.71" width="19.20" height="5.34" fill="#baf52c"/>
<rect x="261.20" y="490.05" width="19.20" height="5.34" fill="#adf530"/>
<rect x="261.20" y="494.39" width="19.20" height="5.34" fill="#a1f537"/>
<rect x="261.20" y="498.73" width="19.20" height="5.34" fill="#96f53f"/>
<rect x="261.20" y="503.06" width="19.20" height="5.34" fill="#8cf54a"/>
<rect x="261.20" y="507.40" width="19.20" height="5.34" fill="#83f556"/>
<rect x="261.20" y="511.74" width="19.20" height="5.34" fill="#7af561"/>
<rect x="261.20" y="516.08" width="19.20" height="5.34" fill="#72f56d"/>
<rect x="261.20" y="520.41" width="19.20" height="5.34" fill="#68f579"/>
<rect x="261.20" y="524.75" width="19.20" height="5.34" fill="#69f589"/>
<rect x="261.20" y="529.09" width="19.20" height="5.34" fill="#69f599"/>
<rect x="261.20" y="533.43" width="19.20" height="5.34" fill="#66f4ad"/>
<rect x="261.20" y="537.76" width="19.20" height="5.34" fill="#62f3c0"/>
<rect x="261.20" y="542.10" width="19.20" height="5.34" fill="#5cf1d0"/>
<rect x="261.20" y="546.44" width="19.20" height="5.34" fill="#55ece0"/>
<rect x="261.20" y="550.78" width="19.20" height="5.34" fill="#4de5ee"/>
<rect x="261.20" y="555.11" width="19.20" height="5.34" fill="#48d6f3"/>
<rect x="261.20" y="559.45" width="19.20" height="5.34" fill="#44c5f6"/>
<rect x="261.20" y="563.79" width="19.20" height="5.34" fill="#3cadf7"/>
<rect x="261.20" y="568.12" width="19.20" height="5.34" fill="#3496f7"/>
<rect x="261.20" y="572.46" width="19.20" height="5.34" fill="#2d82f6"/>
<rect x="261.20" y="576.80" width="19.20" height="5.34" fill="#2670f7"/>
<rect x="261.20" y="581.14" width="19.20" height="5.34" fill="#1f60f8"/>
<rect x="261.20" y="585.48" width="19.20" height="5.34" fill="#1a55f8"/>
<rect x="261.20" y="589.81" width="19.20" height="5.34" fill="#164cf9"/>
<rect x="261.20" y="594.15" width="19.20" height="5.34" fill="#1242fa"/>
<rect x="261.20" y="598.49" width="19.20" height="5.34" fill="#0f39fa"/>
<rect x="261.20" y="602.83" width="19.20" height="5.34" fill="#0c33f9"/>
<rect x="261.20" y="607.16" width="19.20" height="5.34" fill="#0a2df9"/>
<rect x="261.20" y="611.50" width="19.20" height="5.34" fill="#0826f8"/>
<rect x="261.20" y="615.84" width="19.20" height="5.34" fill="#0621f8"/>
<rect x="261.20" y="620.18" width="19.20" height="5.34" fill="#051df7"/>
<rect x="261.20" y="624.51" width="19.20" height="5.34" fill="#0418f7"/>
<rect x="261.20" y="628.85" width="19.20" height="5.34" fill="#0314f6"/>
<rect x="261.20" y="633.19" width="19.20" height="5.34" fill="#0210f5"/>
<rect x="261.20" y="637.53" width="19.20" height="5.34" fill="#010df4"/>
<rect x="261.20" y="641.86" width="19.20" height="4.34" fill="#000af3"/>
<rect x="261.20" y="368.60" width="19.20" height="277.60" fill="none" stroke="#222" stroke-width="1"/>
<text class="cb" transform="translate(282.90 372.80) scale(0.9 1)">2</text>
<text class="cb" transform="translate(282.90 403.64) scale(0.9 1)">1.8</text>
<text class="cb" transform="translate(282.90 434.49) scale(0.9 1)">1.6</text>
<text class="cb" transform="translate(282.90 465.33) scale(0.9 1)">1.4</text>
<text class="cb" transform="translate(282.90 496.18) scale(0.9 1)">1.2</text>
<text class="cb" transform="translate(282.90 527.02) scale(0.9 1)">1</text>
<text class="cb" transform="translate(282.90 557.87) scale(0.9 1)">0.8</text>
<text class="cb" transform="translate(282.90 588.71) scale(0.9 1)">0.6</text>
<text class="cb" transform="translate(282.90 619.56) scale(0.9 1)">0.4</text>
<text class="cb" transform="translate(282.90 650.40) scale(0.9 1)">0.2</text>
<path d="M261.20 399.44h2.2M280.40 399.44h-2.2M261.20 430.29h2.2M280.40 430.29h-2.2M261.20 461.13h2.2M280.40 461.13h-2.2M261.20 491.98h2.2M280.40 491.98h-2.2M261.20 522.82h2.2M280.40 522.82h-2.2M261.20 553.67h2.2M280.40 553.67h-2.2M261.20 584.51h2.2M280.40 584.51h-2.2M261.20 615.36h2.2M280.40 615.36h-2.2" stroke="#444" stroke-width="0.9" fill="none"/>
<rect x="345.60" y="368.60" width="18.18" height="31.14" fill="#0f3afa"/>
<rect x="363.48" y="368.60" width="18.18" height="31.14" fill="#0d36fa"/>
<rect x="381.37" y="368.60" width="18.18" height="31.14" fill="#0d36fa"/>
<rect x="399.25" y="368.60" width="18.18" height="31.14" fill="#0b2ff9"/>
<rect x="417.13" y="368.60" width="18.18" height="31.14" fill="#2267f7"/>
<rect x="435.02" y="368.60" width="18.18" height="31.14" fill="#2a78f6"/>
<rect x="452.90" y="368.60" width="18.18" height="31.14" fill="#318ef7"/>
<rect x="470.78" y="368.60" width="18.18" height="31.14" fill="#2a78f6"/>
<rect x="488.67" y="368.60" width="18.18" height="31.14" fill="#47d2f4"/>
<rect x="506.55" y="368.60" width="18.18" height="31.14" fill="#47d2f4"/>
<rect x="524.43" y="368.60" width="18.18" height="31.14" fill="#2a78f6"/>
<rect x="542.32" y="368.60" width="18.18" height="31.14" fill="#164bf9"/>
<rect x="345.60" y="399.44" width="18.18" height="31.14" fill="#0d36fa"/>
<rect x="363.48" y="399.44" width="18.18" height="31.14" fill="#0d36fa"/>
<rect x="381.37" y="399.44" width="18.18" height="31.14" fill="#0d36fa"/>
<rect x="399.25" y="399.44" width="18.18" height="31.14" fill="#0d36fa"/>
<rect x="417.13" y="399.44" width="18.18" height="31.14" fill="#2267f7"/>
<rect x="435.02" y="399.44" width="18.18" height="31.14" fill="#1d5cf8"/>
<rect x="452.90" y="399.44" width="18.18" height="31.14" fill="#2c7ff6"/>
<rect x="470.78" y="399.44" width="18.18" height="31.14" fill="#3eb5f6"/>
<rect x="488.67" y="399.44" width="18.18" height="31.14" fill="#4ce4f0"/>
<rect x="506.55" y="399.44" width="18.18" height="31.14" fill="#3cadf7"/>
<rect x="524.43" y="399.44" width="18.18" height="31.14" fill="#1a55f8"/>
<rect x="542.32" y="399.44" width="18.18" height="31.14" fill="#0f3afa"/>
<rect x="345.60" y="430.29" width="18.18" height="31.14" fill="#0d36fa"/>
<rect x="363.48" y="430.29" width="18.18" height="31.14" fill="#0d36fa"/>
<rect x="381.37" y="430.29" width="18.18" height="31.14" fill="#0d36fa"/>
<rect x="399.25" y="430.29" width="18.18" height="31.14" fill="#0d36fa"/>
<rect x="417.13" y="430.29" width="18.18" height="31.14" fill="#1d5cf8"/>
<rect x="435.02" y="430.29" width="18.18" height="31.14" fill="#369cf7"/>
<rect x="452.90" y="430.29" width="18.18" height="31.14" fill="#3cadf7"/>
<rect x="470.78" y="430.29" width="18.18" height="31.14" fill="#3eb5f6"/>
<rect x="488.67" y="430.29" width="18.18" height="31.14" fill="#4ce4f0"/>
<rect x="506.55" y="430.29" width="18.18" height="31.14" fill="#2267f7"/>
<rect x="524.43" y="430.29" width="18.18" height="31.14" fill="#0f3afa"/>
<rect x="542.32" y="430.29" width="18.18" height="31.14" fill="#0d36fa"/>
<rect x="345.60" y="461.13" width="18.18" height="31.14" fill="#0d36fa"/>
<rect x="363.48" y="461.13" width="18.18" height="31.14" fill="#0d36fa"/>
<rect x="381.37" y="461.13" width="18.18" height="31.14" fill="#0d36fa"/>
<rect x="399.25" y="461.13" width="18.18" height="31.14" fill="#0b2ff9"/>
<rect x="417.13" y="461.13" width="18.18" height="31.14" fill="#39a4f7"/>
<rect x="435.02" y="461.13" width="18.18" height="31.14" fill="#369cf7"/>
<rect x="452.90" y="461.13" width="18.18" height="31.14" fill="#318ef7"/>
<rect x="470.78" y="461.13" width="18.18" height="31.14" fill="#3cadf7"/>
<rect x="488.67" y="461.13" width="18.18" height="31.14" fill="#3cadf7"/>
<rect x="506.55" y="461.13" width="18.18" height="31.14" fill="#1a55f8"/>
<rect x="524.43" y="461.13" width="18.18" height="31.14" fill="#0f3afa"/>
<rect x="542.32" y="461.13" width="18.18" height="31.14" fill="#0d36fa"/>
<rect x="345.60" y="491.98" width="18.18" height="31.14" fill="#0d36fa"/>
<rect x="363.48" y="491.98" width="18.18" height="31.14" fill="#0f3afa"/>
<rect x="381.37" y="491.98" width="18.18" height="31.14" fill="#0d36fa"/>
<rect x="399.25" y="491.98" width="18.18" height="31.14" fill="#1241fa"/>
<rect x="417.13" y="491.98" width="18.18" height="31.14" fill="#318ef7"/>
<rect x="435.02" y="491.98" width="18.18" height="31.14" fill="#2267f7"/>
<rect x="452.90" y="491.98" width="18.18" height="31.14" fill="#3eb5f6"/>
<rect x="470.78" y="491.98" width="18.18" height="31.14" fill="#2c7ff6"/>
<rect x="488.67" y="491.98" width="18.18" height="31.14" fill="#1d5cf8"/>
<rect x="506.55" y="491.98" width="18.18" height="31.14" fill="#1241fa"/>
<rect x="524.43" y="491.98" width="18.18" height="31.14" fill="#0d36fa"/>
<rect x="542.32" y="491.98" width="18.18" height="31.14" fill="#0d36fa"/>
<rect x="345.60" y="522.82" width="18.18" height="31.14" fill="#0d36fa"/>
<rect x="363.48" y="522.82" width="18.18" height="31.14" fill="#0d36fa"/>
<rect x="381.37" y="522.82" width="18.18" height="31.14" fill="#0d36fa"/>
<rect x="399.25" y="522.82" width="18.18" height="31.14" fill="#0f3afa"/>
<rect x="417.13" y="522.82" width="18.18" height="31.14" fill="#1241fa"/>
<rect x="435.02" y="522.82" width="18.18" height="31.14" fill="#3eb5f6"/>
<rect x="452.90" y="522.82" width="18.18" height="31.14" fill="#318ef7"/>
<rect x="470.78" y="522.82" width="18.18" height="31.14" fill="#0b2ff9"/>
<rect x="488.67" y="522.82" width="18.18" height="31.14" fill="#1d5cf8"/>
<rect x="506.55" y="522.82" width="18.18" height="31.14" fill="#164bf9"/>
<rect x="524.43" y="522.82" width="18.18" height="31.14" fill="#0d36fa"/>
<rect x="542.32" y="522.82" width="18.18" height="31.14" fill="#0b2ff9"/>
<rect x="345.60" y="553.67" width="18.18" height="31.14" fill="#0d36fa"/>
<rect x="363.48" y="553.67" width="18.18" height="31.14" fill="#0f3afa"/>
<rect x="381.37" y="553.67" width="18.18" height="31.14" fill="#0f3afa"/>
<rect x="399.25" y="553.67" width="18.18" height="31.14" fill="#0f3afa"/>
<rect x="417.13" y="553.67" width="18.18" height="31.14" fill="#0f3afa"/>
<rect x="435.02" y="553.67" width="18.18" height="31.14" fill="#39a4f7"/>
<rect x="452.90" y="553.67" width="18.18" height="31.14" fill="#0d36fa"/>
<rect x="470.78" y="553.67" width="18.18" height="31.14" fill="#1a55f8"/>
<rect x="488.67" y="553.67" width="18.18" height="31.14" fill="#2f86f6"/>
<rect x="506.55" y="553.67" width="18.18" height="31.14" fill="#0d36fa"/>
<rect x="524.43" y="553.67" width="18.18" height="31.14" fill="#0b2ff9"/>
<rect x="542.32" y="553.67" width="18.18" height="31.14" fill="#0b2ff9"/>
<rect x="345.60" y="584.51" width="18.18" height="31.14" fill="#0c31f9"/>
<rect x="363.48" y="584.51" width="18.18" height="31.14" fill="#0c31f9"/>
<rect x="381.37" y="584.51" width="18.18" height="31.14" fill="#0d33f9"/>
<rect x="399.25" y="584.51" width="18.18" height="31.14" fill="#0f3afa"/>
<rect x="417.13" y="584.51" width="18.18" height="31.14" fill="#0f3afa"/>
<rect x="435.02" y="584.51" width="18.18" height="31.14" fill="#0f3afa"/>
<rect x="452.90" y="584.51" width="18.18" height="31.14" fill="#2a78f6"/>
<rect x="470.78" y="584.51" width="18.18" height="31.14" fill="#0f3afa"/>
<rect x="488.67" y="584.51" width="18.18" height="31.14" fill="#0f3afa"/>
<rect x="506.55" y="584.51" width="18.18" height="31.14" fill="#0d36fa"/>
<rect x="524.43" y="584.51" width="18.18" height="31.14" fill="#0b2ff9"/>
<rect x="542.32" y="584.51" width="18.18" height="31.14" fill="#0928f8"/>
<rect x="345.60" y="615.36" width="18.18" height="31.14" fill="#0419f7"/>
<rect x="363.48" y="615.36" width="18.18" height="31.14" fill="#0419f7"/>
<rect x="381.37" y="615.36" width="18.18" height="31.14" fill="#0a2df9"/>
<rect x="399.25" y="615.36" width="18.18" height="31.14" fill="#0b2ff9"/>
<rect x="417.13" y="615.36" width="18.18" height="31.14" fill="#0d36fa"/>
<rect x="435.02" y="615.36" width="18.18" height="31.14" fill="#0f3afa"/>
<rect x="452.90" y="615.36" width="18.18" height="31.14" fill="#0f3afa"/>
<rect x="470.78" y="615.36" width="18.18" height="31.14" fill="#0d36fa"/>
<rect x="488.67" y="615.36" width="18.18" height="31.14" fill="#1241fa"/>
<rect x="506.55" y="615.36" width="18.18" height="31.14" fill="#0b2ff9"/>
<rect x="524.43" y="615.36" width="18.18" height="31.14" fill="#051af7"/>
<rect x="542.32" y="615.36" width="18.18" height="31.14" fill="#0621f8"/>
<path d="M345.60 368.60V646.20M363.48 368.60V646.20M381.37 368.60V646.20M399.25 368.60V646.20M417.13 368.60V646.20M435.02 368.60V646.20M452.90 368.60V646.20M470.78 368.60V646.20M488.67 368.60V646.20M506.55 368.60V646.20M524.43 368.60V646.20M542.32 368.60V646.20M560.20 368.60V646.20M345.60 368.60H560.20M345.60 399.44H560.20M345.60 430.29H560.20M345.60 461.13H560.20M345.60 491.98H560.20M345.60 522.82H560.20M345.60 553.67H560.20M345.60 584.51H560.20M345.60 615.36H560.20M345.60 646.20H560.20" stroke="#38383c" stroke-width="1.25" fill="none"/>
<rect x="345.60" y="368.60" width="214.60" height="277.60" fill="none" stroke="#161618" stroke-width="1.2"/>
<text class="tk" x="340.40" y="388.62" text-anchor="end">9</text>
<text class="tk" x="340.40" y="419.47" text-anchor="end">8</text>
<text class="tk" x="340.40" y="450.31" text-anchor="end">7</text>
<text class="tk" x="340.40" y="481.16" text-anchor="end">6</text>
<text class="tk" x="340.40" y="512.00" text-anchor="end">5</text>
<text class="tk" x="340.40" y="542.84" text-anchor="end">4</text>
<text class="tk" x="340.40" y="573.69" text-anchor="end">3</text>
<text class="tk" x="340.40" y="604.53" text-anchor="end">2</text>
<text class="tk" x="340.40" y="635.38" text-anchor="end">1</text>
<text class="tk" x="354.19" y="660.00" text-anchor="middle">J</text>
<text class="tk" x="372.07" y="660.00" text-anchor="middle">F</text>
<text class="tk" x="389.96" y="660.00" text-anchor="middle">M</text>
<text class="tk" x="407.84" y="660.00" text-anchor="middle">A</text>
<text class="tk" x="425.73" y="660.00" text-anchor="middle">M</text>
<text class="tk" x="443.61" y="660.00" text-anchor="middle">J</text>
<text class="tk" x="461.49" y="660.00" text-anchor="middle">J</text>
<text class="tk" x="479.38" y="660.00" text-anchor="middle">A</text>
<text class="tk" x="497.26" y="660.00" text-anchor="middle">S</text>
<text class="tk" x="515.14" y="660.00" text-anchor="middle">O</text>
<text class="tk" x="533.02" y="660.00" text-anchor="middle">N</text>
<text class="tk" x="550.91" y="660.00" text-anchor="middle">D</text>
<text class="lb" x="456.50" y="676.40" text-anchor="middle">target</text>
<text class="yl" transform="translate(325.10 505.80) rotate(-90)" text-anchor="middle">lead</text>
<text class="tt" x="460.70" y="359.40" text-anchor="middle">rmse(SD)clim.adj CFSv2</text>
<text class="tg" transform="translate(314.10 360.25) scale(1.000 1)">(d)</text>
<rect x="574.40" y="368.60" width="19.20" height="5.34" fill="#790103"/>
<rect x="574.40" y="372.94" width="19.20" height="5.34" fill="#8c0204"/>
<rect x="574.40" y="377.28" width="19.20" height="5.34" fill="#a00306"/>
<rect x="574.40" y="381.61" width="19.20" height="5.34" fill="#b50508"/>
<rect x="574.40" y="385.95" width="19.20" height="5.34" fill="#c8060a"/>
<rect x="574.40" y="390.29" width="19.20" height="5.34" fill="#d9070b"/>
<rect x="574.40" y="394.62" width="19.20" height="5.34" fill="#e7080e"/>
<rect x="574.40" y="398.96" width="19.20" height="5.34" fill="#f10b10"/>
<rect x="574.40" y="403.30" width="19.20" height="5.34" fill="#f50f13"/>
<rect x="574.40" y="407.64" width="19.20" height="5.34" fill="#f71615"/>
<rect x="574.40" y="411.98" width="19.20" height="5.34" fill="#f81f16"/>
<rect x="574.40" y="416.31" width="19.20" height="5.34" fill="#f92c16"/>
<rect x="574.40" y="420.65" width="19.20" height="5.34" fill="#fa3b16"/>
<rect x="574.40" y="424.99" width="19.20" height="5.34" fill="#fb4d15"/>
<rect x="574.40" y="429.33" width="19.20" height="5.34" fill="#fc5f14"/>
<rect x="574.40" y="433.66" width="19.20" height="5.34" fill="#fc7113"/>
<rect x="574.40" y="438.00" width="19.20" height="5.34" fill="#fc8213"/>
<rect x="574.40" y="442.34" width="19.20" height="5.34" fill="#fc9214"/>
<rect x="574.40" y="446.68" width="19.20" height="5.34" fill="#fca215"/>
<rect x="574.40" y="451.01" width="19.20" height="5.34" fill="#fcb316"/>
<rect x="574.40" y="455.35" width="19.20" height="5.34" fill="#fcc315"/>
<rect x="574.40" y="459.69" width="19.20" height="5.34" fill="#fcd314"/>
<rect x="574.40" y="464.03" width="19.20" height="5.34" fill="#f9e415"/>
<rect x="574.40" y="468.36" width="19.20" height="5.34" fill="#f3f017"/>
<rect x="574.40" y="472.70" width="19.20" height="5.34" fill="#e7f519"/>
<rect x="574.40" y="477.04" width="19.20" height="5.34" fill="#d8f61f"/>
<rect x="574.40" y="481.38" width="19.20" height="5.34" fill="#c7f527"/>
<rect x="574.40" y="485.71" width="19.20" height="5.34" fill="#baf52c"/>
<rect x="574.40" y="490.05" width="19.20" height="5.34" fill="#adf530"/>
<rect x="574.40" y="494.39" width="19.20" height="5.34" fill="#a1f537"/>
<rect x="574.40" y="498.73" width="19.20" height="5.34" fill="#96f53f"/>
<rect x="574.40" y="503.06" width="19.20" height="5.34" fill="#8cf54a"/>
<rect x="574.40" y="507.40" width="19.20" height="5.34" fill="#83f556"/>
<rect x="574.40" y="511.74" width="19.20" height="5.34" fill="#7af561"/>
<rect x="574.40" y="516.08" width="19.20" height="5.34" fill="#72f56d"/>
<rect x="574.40" y="520.41" width="19.20" height="5.34" fill="#68f579"/>
<rect x="574.40" y="524.75" width="19.20" height="5.34" fill="#69f589"/>
<rect x="574.40" y="529.09" width="19.20" height="5.34" fill="#69f599"/>
<rect x="574.40" y="533.43" width="19.20" height="5.34" fill="#66f4ad"/>
<rect x="574.40" y="537.76" width="19.20" height="5.34" fill="#62f3c0"/>
<rect x="574.40" y="542.10" width="19.20" height="5.34" fill="#5cf1d0"/>
<rect x="574.40" y="546.44" width="19.20" height="5.34" fill="#55ece0"/>
<rect x="574.40" y="550.78" width="19.20" height="5.34" fill="#4de5ee"/>
<rect x="574.40" y="555.11" width="19.20" height="5.34" fill="#48d6f3"/>
<rect x="574.40" y="559.45" width="19.20" height="5.34" fill="#44c5f6"/>
<rect x="574.40" y="563.79" width="19.20" height="5.34" fill="#3cadf7"/>
<rect x="574.40" y="568.12" width="19.20" height="5.34" fill="#3496f7"/>
<rect x="574.40" y="572.46" width="19.20" height="5.34" fill="#2d82f6"/>
<rect x="574.40" y="576.80" width="19.20" height="5.34" fill="#2670f7"/>
<rect x="574.40" y="581.14" width="19.20" height="5.34" fill="#1f60f8"/>
<rect x="574.40" y="585.48" width="19.20" height="5.34" fill="#1a55f8"/>
<rect x="574.40" y="589.81" width="19.20" height="5.34" fill="#164cf9"/>
<rect x="574.40" y="594.15" width="19.20" height="5.34" fill="#1242fa"/>
<rect x="574.40" y="598.49" width="19.20" height="5.34" fill="#0f39fa"/>
<rect x="574.40" y="602.83" width="19.20" height="5.34" fill="#0c33f9"/>
<rect x="574.40" y="607.16" width="19.20" height="5.34" fill="#0a2df9"/>
<rect x="574.40" y="611.50" width="19.20" height="5.34" fill="#0826f8"/>
<rect x="574.40" y="615.84" width="19.20" height="5.34" fill="#0621f8"/>
<rect x="574.40" y="620.18" width="19.20" height="5.34" fill="#051df7"/>
<rect x="574.40" y="624.51" width="19.20" height="5.34" fill="#0418f7"/>
<rect x="574.40" y="628.85" width="19.20" height="5.34" fill="#0314f6"/>
<rect x="574.40" y="633.19" width="19.20" height="5.34" fill="#0210f5"/>
<rect x="574.40" y="637.53" width="19.20" height="5.34" fill="#010df4"/>
<rect x="574.40" y="641.86" width="19.20" height="4.34" fill="#000af3"/>
<rect x="574.40" y="368.60" width="19.20" height="277.60" fill="none" stroke="#222" stroke-width="1"/>
<text class="cb" transform="translate(596.10 372.80) scale(0.9 1)">2</text>
<text class="cb" transform="translate(596.10 403.64) scale(0.9 1)">1.8</text>
<text class="cb" transform="translate(596.10 434.49) scale(0.9 1)">1.6</text>
<text class="cb" transform="translate(596.10 465.33) scale(0.9 1)">1.4</text>
<text class="cb" transform="translate(596.10 496.18) scale(0.9 1)">1.2</text>
<text class="cb" transform="translate(596.10 527.02) scale(0.9 1)">1</text>
<text class="cb" transform="translate(596.10 557.87) scale(0.9 1)">0.8</text>
<text class="cb" transform="translate(596.10 588.71) scale(0.9 1)">0.6</text>
<text class="cb" transform="translate(596.10 619.56) scale(0.9 1)">0.4</text>
<text class="cb" transform="translate(596.10 650.40) scale(0.9 1)">0.2</text>
<path d="M574.40 399.44h2.2M593.60 399.44h-2.2M574.40 430.29h2.2M593.60 430.29h-2.2M574.40 461.13h2.2M593.60 461.13h-2.2M574.40 491.98h2.2M593.60 491.98h-2.2M574.40 522.82h2.2M593.60 522.82h-2.2M574.40 553.67h2.2M593.60 553.67h-2.2M574.40 584.51h2.2M593.60 584.51h-2.2M574.40 615.36h2.2M593.60 615.36h-2.2" stroke="#444" stroke-width="0.9" fill="none"/>
</svg>
</body></html>
